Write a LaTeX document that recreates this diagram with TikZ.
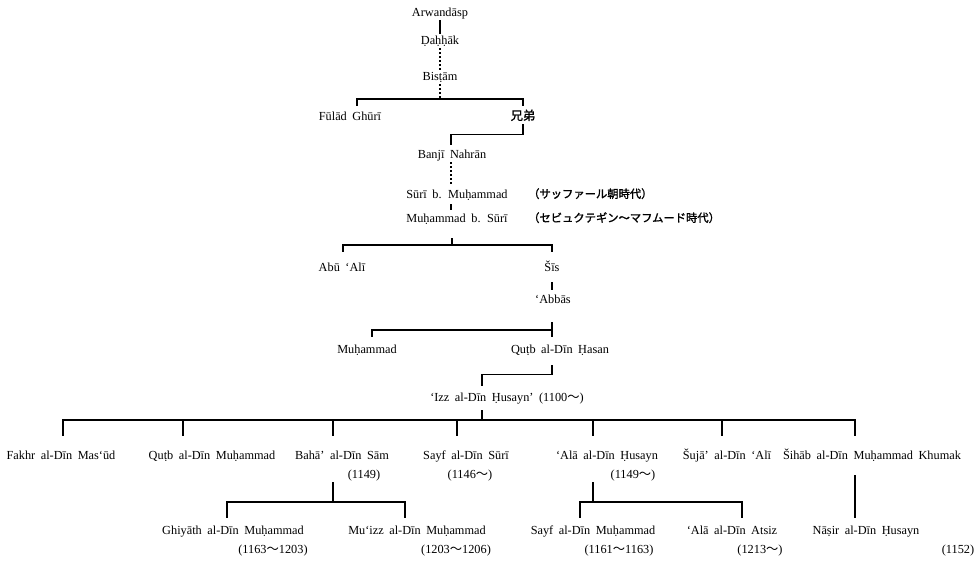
\documentclass[tikz,border=0pt]{standalone}
\usepackage{fontspec}
\setmainfont{Liberation Serif}[WordSpace=1.8]
\newfontfamily\jpfont{Noto Sans CJK JP}
\newfontfamily\jpbold{Noto Sans CJK JP}[FakeBold=1.5]
\newcommand\wv{{\jpfont ～}}
\tikzset{
  nm/.style={inner xsep=0pt,inner ysep=1.5pt,text height=8.5pt,text depth=2.5pt,
    font=\fontsize{12.3}{14}\selectfont},
  note/.style={nm,anchor=west,font=\jpbold\fontsize{11.3}{13}\selectfont},
  ln/.style={line width=1.1pt},
  dots/.style={ln,dash pattern=on 1.3pt off 2.7pt},
  stub/.style={ln,shorten >=13pt},
}

\begin{document}
\begin{tikzpicture}[x=1pt,y=-1pt]
\useasboundingbox (0,0) rectangle (975,560);
% ancestors
\node[nm] (arw) at (440,13) {Arwandāsp};
\node[nm] (dah) at (440,41) {Ḍaḥḥāk};
\node[nm] (bis) at (440,77) {Bisṭām};
\coordinate (j1) at (440,99);
\node[nm] (fulad) at (350,117) {Fūlād Ghūrī};
\node[nm,font=\jpbold\fontsize{12.3}{14}\selectfont] (kyodai) at (523,117) {兄弟};
\node[nm] (banji) at (452,155) {Banjī Nahrān};
\node[nm] (surim) at (457,195) {Sūrī b. Muḥammad};
\node[nm] (muhs) at (457,219) {Muḥammad b. Sūrī};
\node[note] (era1) at (528,195) {（サッファール朝時代）};
\node[note] (era2) at (528,219) {（セビュクテギン～マフムード時代）};
\coordinate (j2) at (452,245);
\node[nm] (abuali) at (342,268) {Abū ‘Alī};
\node[nm] (sis) at (552,268) {Šīs};
\node[nm] (abbas) at (553,300) {‘Abbās};
\coordinate (j3) at (552,330);
\node[nm] (muh) at (367,350) {Muḥammad};
\node[nm] (qutbh) at (560,350) {Quṭb al-Dīn Ḥasan};
\node[nm] (izz) at (507,398) {‘Izz al-Dīn Ḥusayn’ (1100\wv)};
\coordinate (j4) at (482,420);
% sons of Izz al-Din
\node[nm] (fakhr) at (61,456) {Fakhr al-Dīn Mas‘ūd};
\node[nm] (qutbm) at (212,456) {Quṭb al-Dīn Muḥammad};
\node[nm] (baha) at (342,456) {Bahā’ al-Dīn Sām};
\node[nm] (bahaY) at (364,475) {(1149)};
\node[nm] (sayfs) at (466,456) {Sayf al-Dīn Sūrī};
\node[nm] (sayfsY) at (470,475) {(1146\wv)};
\node[nm] (alah) at (607,456) {‘Alā al-Dīn Ḥusayn};
\node[nm] (alahY) at (633,475) {(1149\wv)};
\node[nm] (shuja) at (727,456) {Šujā’ al-Dīn ‘Alī};
\node[nm] (shihab) at (872,456) {Šihāb al-Dīn Muḥammad Khumak};
\coordinate (j5) at (333,502);
\coordinate (j6) at (593,502);
% grandsons
\node[nm] (ghiyath) at (233,531) {Ghiyāth al-Dīn Muḥammad};
\node[nm] (ghiyathY) at (273,550) {(1163\wv1203)};
\node[nm] (muizz) at (417,531) {Mu‘izz al-Dīn Muḥammad};
\node[nm] (muizzY) at (456,550) {(1203\wv1206)};
\node[nm] (sayfm) at (593,531) {Sayf al-Dīn Muḥammad};
\node[nm] (sayfmY) at (619,550) {(1161\wv1163)};
\node[nm] (atsiz) at (732,531) {‘Alā al-Dīn Atsiz};
\node[nm] (atsizY) at (760,550) {(1213\wv)};
\node[nm] (nasir) at (866,531) {Nāṣir al-Dīn Ḥusayn};
\node[nm] (nasirY) at (958,550) {(1152)};

\draw[ln] (arw.south) -- (dah.north);
\draw[dots] (dah.south) -- (bis.north);
\draw[dots] (bis.south) -- (j1);
\draw[ln,shorten <=4pt,shorten >=4pt] ([xshift=7pt]fulad.north) |- (j1) -| (kyodai.north);
\draw[ln,shorten >=3pt] (kyodai.south) -- ++(0,10) -| ([xshift=-1pt]banji.north);
\draw[dots,shorten >=4pt] ([xshift=-1pt]banji.south) -- ([xshift=-6pt]surim.north);
\draw[ln,shorten <=2pt,shorten >=2pt] ([xshift=-6pt]surim.south) -- ([xshift=-6pt]muhs.north);
\draw[ln,shorten <=12pt] ([xshift=-5pt]muhs.south) -- (j2);
\draw[ln,shorten <=9pt,shorten >=9pt] ([xshift=1pt]abuali.north) |- (j2) -| (sis.north);
\draw[ln,shorten <=7pt,shorten >=3pt] (sis.south) -- ([xshift=-1pt]abbas.north);
\draw[ln,shorten <=15pt,shorten >=6pt] ([xshift=-1pt]abbas.south) -- ([xshift=-8pt]qutbh.north);
\draw[ln,shorten >=6pt] (j3) -| ([xshift=5pt]muh.north);
\draw[ln,shorten <=8pt,shorten >=5pt] ([xshift=-8pt]qutbh.south) -- ++(0,17) -| ([xshift=-25pt]izz.north);
\draw[ln,shorten <=5pt] ([xshift=-25pt]izz.south) -- (j4);
\draw[ln,shorten <=13pt,shorten >=13pt] ([xshift=2pt]fakhr.north) |- (j4) -| ([xshift=-17pt]shihab.north);
\foreach \n/\dx in {qutbm/-29,baha/-9,sayfs/-9,alah/-14,shuja/-5}
  \draw[stub] ([xshift=\dx pt]\n.north |- j4) -- ([xshift=\dx pt]\n.north);
\draw[ln,shorten <=19pt] ([xshift=-9pt]baha.south) -- (j5);
\draw[ln,shorten <=6pt,shorten >=6pt] ([xshift=-6pt]ghiyath.north) |- (j5) -| ([xshift=-12pt]muizz.north);
\draw[ln,shorten <=19pt] ([xshift=-14pt]alah.south) -- (j6);
\draw[ln,shorten <=6pt,shorten >=6pt] ([xshift=-13pt]sayfm.north) |- (j6) -| ([xshift=10pt]atsiz.north);
\draw[ln,shorten <=12pt,shorten >=6pt] ([xshift=-17pt]shihab.south) -- ([xshift=-11pt]nasir.north);
\end{tikzpicture}
\end{document}
